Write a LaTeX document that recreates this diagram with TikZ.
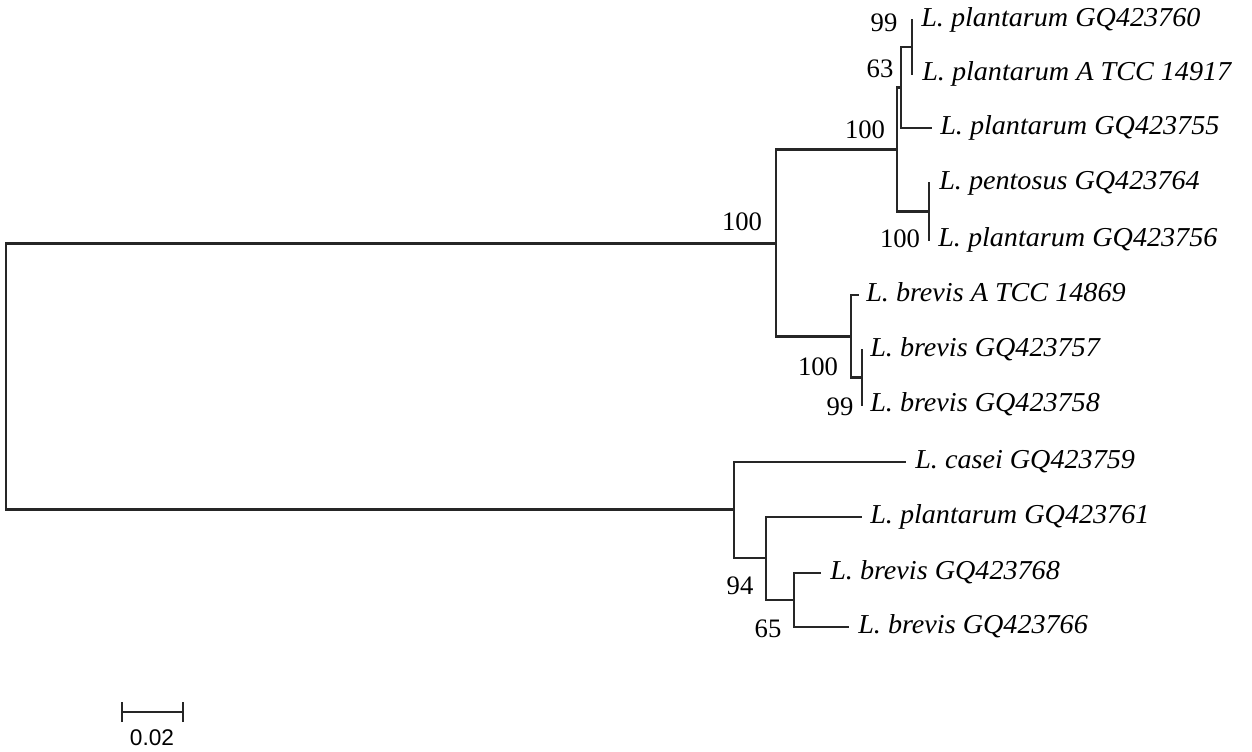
\documentclass[tikz,border=0pt]{standalone}
\usepackage{fontspec}
\setmainfont{Liberation Serif}
\newfontfamily\leaffont[FakeStretch=1.03]{Liberation Serif}
\newfontfamily\barfont{Liberation Sans}
\begin{document}
\begin{tikzpicture}[x=0.75pt,y=-0.75pt,
  br/.style={line width=1.7pt, draw=black!85, line cap=rect},
  leaf/.style={anchor=mid west, inner sep=0pt, yshift=-2.5pt, font=\leaffont\itshape\fontsize{20.5}{23}\selectfont},
  boot/.style={inner sep=0pt, font=\fontsize{20}{22}\selectfont},
  sbar/.style={line width=1.7pt, draw=black!85}]
\useasboundingbox (0,0) rectangle (1252,751);
% internal nodes
\coordinate (R) at (6,376.5);
\coordinate (A) at (776,243.5);
\coordinate (B) at (734,509.5);
\coordinate (C) at (897,149.5);
\coordinate (D) at (851,336.5);
\coordinate (E) at (901,87.5);
\coordinate (F) at (929,211.5);
\coordinate (G) at (912,47);
\coordinate (J) at (862,377.5);
\coordinate (H) at (766,558);
\coordinate (I) at (794,600);
% tips
\coordinate (t1) at (912,20);
\coordinate (t2) at (912,74);
\coordinate (t3) at (931,128);
\coordinate (t4) at (929,183);
\coordinate (t5) at (929,240);
\coordinate (t6) at (858,295);
\coordinate (t7) at (862,350);
\coordinate (t8) at (862,405);
\coordinate (t9) at (905,462);
\coordinate (t10) at (861,517);
\coordinate (t11) at (820,573);
\coordinate (t12) at (848,627);
% branches
\draw[br] (R) |- (A);
\draw[br] (R) |- (B);
\draw[br] (A) |- (C);
\draw[br] (A) |- (D);
\draw[br] (C) |- (E);
\draw[br] (C) |- (F);
\draw[br] (E) |- (G);
\draw[br] (E) |- (t3);
\draw[br] (G) -- (t1);
\draw[br] (G) -- (t2);
\draw[br] (F) -- (t4);
\draw[br] (F) -- (t5);
\draw[br] (D) |- (t6);
\draw[br] (D) |- (J);
\draw[br] (J) -- (t7);
\draw[br] (J) -- (t8);
\draw[br] (B) |- (t9);
\draw[br] (B) |- (H);
\draw[br] (H) |- (t10);
\draw[br] (H) |- (I);
\draw[br] (I) |- (t11);
\draw[br] (I) |- (t12);
% leaf labels
\node[leaf] (n1) at (921,20) {L. plantarum GQ423760};
\node[leaf] (n2) at (922,74) {L. plantarum A TCC 14917};
\node[leaf] (n3) at (940,128) {L. plantarum GQ423755};
\node[leaf] (n4) at (939,183) {L. pentosus GQ423764};
\node[leaf] (n5) at (938,240) {L. plantarum GQ423756};
\node[leaf] (n6) at (866,295) {L. brevis A TCC 14869};
\node[leaf] (n7) at (870,350) {L. brevis GQ423757};
\node[leaf] (n8) at (870,405) {L. brevis GQ423758};
\node[leaf] (n9) at (915,462) {L. casei GQ423759};
\node[leaf] (n10) at (870,517) {L. plantarum GQ423761};
\node[leaf] (n11) at (830,573) {L. brevis GQ423768};
\node[leaf] (n12) at (858,627) {L. brevis GQ423766};
% bootstrap values
\node[boot] (b1) at (884,23) {99};
\node[boot] (b2) at (880,69) {63};
\node[boot] (b3) at (865,130) {100};
\node[boot] (b4) at (900,239) {100};
\node[boot] (b5) at (742,222) {100};
\node[boot] (b6) at (818,367) {100};
\node[boot] (b7) at (840,407) {99};
\node[boot] (b8) at (740,586) {94};
\node[boot] (b9) at (768,629) {65};
% scale bar
\coordinate (s1) at (122,712);
\coordinate (s2) at (183,712);
\draw[sbar] (s1) -- (s2);
\draw[sbar] ([yshift=-7.5pt]s1) -- ([yshift=7.5pt]s1);
\draw[sbar] ([yshift=-7.5pt]s2) -- ([yshift=7.5pt]s2);
\node[inner sep=0pt, font=\barfont\fontsize{17}{19}\selectfont] (sl) at (152,738) {0.02};
\end{tikzpicture}
\end{document}
